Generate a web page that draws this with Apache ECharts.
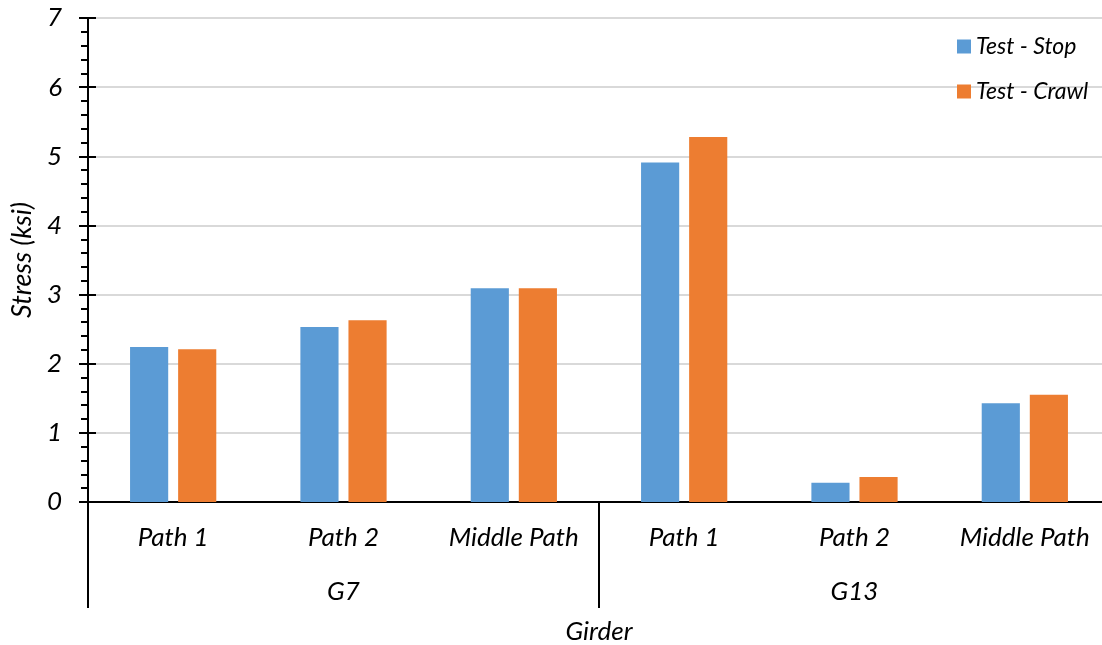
<!DOCTYPE html>
<html>
<head>
<meta charset="utf-8">
<script src="https://cdn.jsdelivr.net/npm/echarts@6/dist/echarts.min.js"></script>
<style>
html,body{margin:0;padding:0;background:#fff;}
#c{width:1102px;height:645px;}
</style>
</head>
<body>
<div id="c"></div>
<script>
const categories = ['Path 1', 'Path 2', 'Middle Path', 'Path 1', 'Path 2', 'Middle Path'];
const groups = ['G7', 'G13'];
const stopValues = [2.24, 2.53, 3.09, 4.91, 0.28, 1.43];
const crawlValues = [2.21, 2.63, 3.09, 5.28, 0.36, 1.55];
const seriesNames = ['Test - Stop', 'Test - Crawl'];
const yTicks = [0, 1, 2, 3, 4, 5, 6, 7];

const FONT = 'Lato';
const chart = echarts.init(document.getElementById('c'), null, {renderer: 'canvas'});
chart.setOption({
  animation: false,
  backgroundColor: '#fff',
  textStyle: {fontFamily: FONT, fontStyle: 'italic', color: '#000'},
  grid: {left: 88, right: -8, top: 18, bottom: 143, containLabel: false, outerBoundsMode: 'none'},
  legend: {
    data: seriesNames,
    orient: 'vertical',
    left: 952, top: 30,
    itemWidth: 14, itemHeight: 14, itemGap: 22,
    icon: 'rect',
    textStyle: {fontFamily: FONT, fontStyle: 'italic', fontSize: 23, color: '#000'}
  },
  xAxis: [
    {
      type: 'category', data: categories, position: 'bottom',
      axisLine: {show: true, lineStyle: {color: '#000', width: 2}},
      axisTick: {show: false},
      axisLabel: {fontFamily: FONT, fontStyle: 'italic', fontSize: 26, color: '#000', margin: 23, interval: 0}
    },
    {
      type: 'category', data: groups, position: 'bottom',
      axisLine: {show: false},
      axisTick: {show: true, length: 106, lineStyle: {color: '#000', width: 2}},
      axisLabel: {fontFamily: FONT, fontStyle: 'italic', fontSize: 26, color: '#000', margin: 77},
      name: 'Girder', nameLocation: 'middle', nameGap: 117,
      nameTextStyle: {fontFamily: FONT, fontStyle: 'italic', fontSize: 26, color: '#000'}
    }
  ],
  yAxis: [
    {
      type: 'value', min: yTicks[0], max: yTicks[yTicks.length - 1], interval: 1,
      name: 'Stress (ksi)', nameLocation: 'middle', nameGap: 52,
      nameTextStyle: {fontFamily: FONT, fontStyle: 'italic', fontSize: 27, color: '#000'},
      axisLine: {show: true, lineStyle: {color: '#000', width: 2}},
      axisTick: {show: true, length: 9, lineStyle: {color: '#000', width: 2}},
      minorTick: {show: true, splitNumber: 5, length: 7, lineStyle: {color: '#000', width: 2}},
      axisLabel: {fontFamily: FONT, fontStyle: 'italic', fontSize: 26, color: '#000', margin: 26},
      splitLine: {show: true, lineStyle: {color: '#d9d9d9', width: 2}}
    },
    {
      type: 'value', min: yTicks[0], max: yTicks[yTicks.length - 1], interval: 1, position: 'left',
      axisLine: {show: false},
      axisTick: {show: true, inside: true, length: 8, lineStyle: {color: '#000', width: 2}},
      axisLabel: {show: false},
      splitLine: {show: false}
    }
  ],
  series: [
    {
      name: seriesNames[0], type: 'bar', data: stopValues,
      barWidth: '22.4%', barGap: '26%',
      itemStyle: {color: '#5b9bd5'}
    },
    {
      name: seriesNames[1], type: 'bar', data: crawlValues,
      barWidth: '22.4%', barGap: '26%',
      itemStyle: {color: '#ed7d31'}
    }
  ]
});
</script>
</body>
</html>
